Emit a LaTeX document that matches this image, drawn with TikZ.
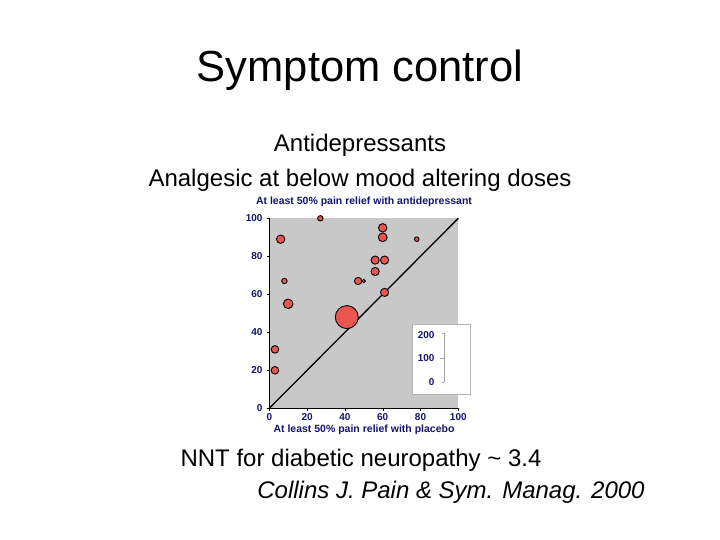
\documentclass[tikz,border=0pt]{standalone}
\usepackage{fontspec}
\setmainfont{Liberation Sans}
\definecolor{navy}{RGB}{20,20,110}
\definecolor{bub}{RGB}{235,85,80}
\definecolor{plotgray}{RGB}{200,200,200}
\begin{document}
\begin{tikzpicture}[x=1pt,y=-1pt,
  bubble/.style={circle,draw=black,line width=0.9pt,fill=bub,inner sep=0pt},
  tick/.style={font=\bfseries\fontsize{10}{11}\selectfont,text=navy},
  axlab/.style={font=\bfseries\fontsize{10.5}{12}\selectfont,text=navy}]
\useasboundingbox (0,0) rectangle (720,540);
\fill[white] (0,0) rectangle (720,540);
\node (title) at (360,70) {\fontsize{43.5}{48}\selectfont Symptom control};
\node (s1) at (360,145) {\fontsize{24}{28}\selectfont Antidepressants};
\node (s2) at (360,180) {\fontsize{24}{28}\selectfont Analgesic at below mood altering doses};
\node (b1) at (361,460) {\fontsize{24}{28}\selectfont NNT for diabetic neuropathy \textasciitilde{} 3.4};
\node (b2) at (451,492) {\fontsize{24}{28}\selectfont\itshape Collins J. Pain \& Sym. Manag. 2000};
% plot
\fill[plotgray] (269.3,218.3) rectangle (458.3,408.3);
\draw[line width=0.8pt] (269.3,218.3) -- (269.3,408.3) -- (458.3,408.3);
\foreach \v in {0,20,...,100}{
  \draw (266.5,{408.3-1.9*\v}) -- (269.3,{408.3-1.9*\v});
  \draw ({269.3+1.89*\v},408.3) -- ({269.3+1.89*\v},411);
  \node[tick,anchor=east] (yl\v) at (266,{408.3-1.9*\v}) {\v};
  \node[tick,anchor=north] (xl\v) at ({269.3+1.89*\v},410) {\v};
}
\node[axlab] (ytitle) at (364,202) {At least 50\% pain relief with antidepressant};
\node[axlab] (xtitle) at (364,430) {At least 50\% pain relief with placebo};
\coordinate (o) at (269.3,408.3);
\coordinate (e) at (458.3,218.3);
\draw[line width=1.3pt] (o) -- (e);
\foreach \x/\y/\r [count=\i] in {27/100/2.7,6/89/4.2,60/95/4.2,60/90/4.4,78/89/2.3,56/78/4.1,61/78/4.1,56/72/4.1,8/67/2.7,47/67/3.7,50/67/1.7,61/61/4.1,10/55/4.8,41/48/11.5,3/31/3.8,3/20/3.8}
  \node[bubble,minimum size={2*\r pt}] (p\i) at ({269.3+1.89*\x},{408.3-1.9*\y}) {};
% legend
\draw[fill=white,draw=gray!60] (412,324) rectangle (470,394);
\draw[gray!70,line width=0.8pt] (444,333) -- (444,382);
\draw[gray!70] (442,333) -- (444,333) (440,358) -- (444,358) (442,382) -- (444,382);
\node[tick,anchor=east] (l200) at (438,335.5) {200};
\node[tick,anchor=east] (l100) at (438,358) {100};
\node[tick,anchor=east] (l0) at (438,382) {0};
\end{tikzpicture}
\end{document}
